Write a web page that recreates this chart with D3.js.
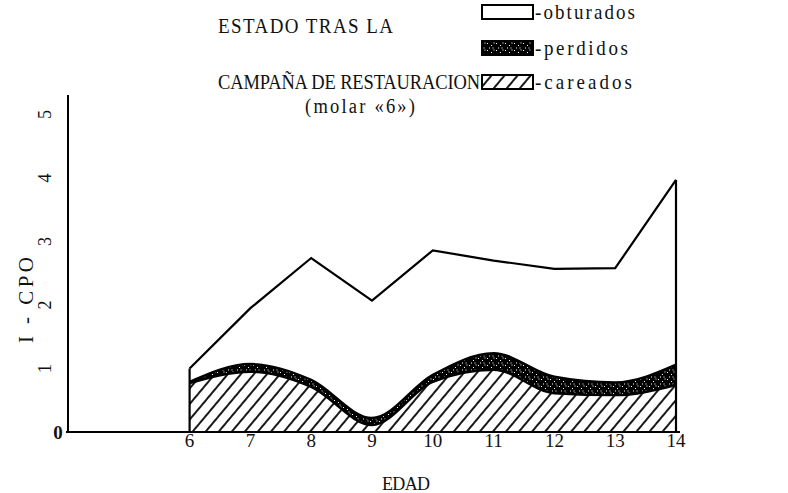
<!DOCTYPE html>
<html><head><meta charset="utf-8">
<script src="https://cdn.jsdelivr.net/npm/d3@7"></script>
<style>
body{margin:0;background:#fff;}
text{font-family:"Liberation Serif","DejaVu Serif",serif;fill:#111;}
</style></head>
<body><svg id="c" width="788" height="493"></svg>
<script>
// ---- data ----
const ages = [6, 7, 8, 9, 10, 11, 12, 13, 14];
const careados  = [0.77, 0.95, 0.71, 0.11, 0.79, 0.98, 0.61, 0.58, 0.74];
const perdidos  = [0.02, 0.12, 0.11, 0.11, 0.11, 0.26, 0.26, 0.20, 0.32];
const obturados = [0.21, 0.88, 1.92, 1.85, 1.96, 1.46, 1.70, 1.80, 2.91];
const xTickLabels = ["6","7","8","9","10","11","12","13","14"];
const yTickLabels = ["1","2","3","4","5"];
const legendLabels = ["-obturados","-perdidos","-careados"];

const rows = ages.map((a,i)=>({age:a, careados:careados[i], perdidos:perdidos[i], obturados:obturados[i]}));
const stack = d3.stack().keys(["careados","perdidos","obturados"])(rows);

const svg = d3.select("#c");
const x = d3.scaleLinear().domain([4,14]).range([68,676]);
const y = d3.scaleLinear().domain([0,5]).range([432,114.5]);

const defs = svg.append("defs");
const hatch = defs.append("pattern").attr("id","hatch").attr("patternUnits","userSpaceOnUse")
  .attr("width",10).attr("height",10).attr("patternTransform","rotate(40)");
hatch.append("rect").attr("width",10).attr("height",10).attr("fill","#fff");
hatch.append("rect").attr("x",4.1).attr("y",0).attr("width",1.8).attr("height",10).attr("fill","#000");

const speck = defs.append("pattern").attr("id","speck").attr("patternUnits","userSpaceOnUse")
  .attr("width",9).attr("height",7);
speck.append("rect").attr("width",9).attr("height",7).attr("fill","#000");
[[1,1],[5,3],[3,5.5],[7.5,0.5],[6.5,5.5]].forEach(p=>speck.append("rect").attr("x",p[0]).attr("y",p[1]).attr("width",1).attr("height",1).attr("fill","#fff"));

// layers
const areaLin = d3.area().x(d=>x(d.data.age)).y0(d=>y(d[0])).y1(d=>y(d[1]));
const areaCurve = d3.area().curve(d3.curveMonotoneX).x(d=>x(d.data.age)).y0(d=>y(d[0])).y1(d=>y(d[1]));
const lineCurve = d3.line().curve(d3.curveMonotoneX).x(d=>x(d.data.age)).y(d=>y(d[1]));
const lineLin = d3.line().x(d=>x(d.data.age)).y(d=>y(d[1]));

svg.append("path").datum(stack[2]).attr("d",areaLin).attr("fill","#fff");
svg.append("path").datum(stack[1]).attr("d",areaCurve).attr("fill","url(#speck)");
svg.append("path").datum(stack[0]).attr("d",areaCurve).attr("fill","url(#hatch)");
svg.append("path").datum(stack[0]).attr("d",lineCurve).attr("fill","none").attr("stroke","#000").attr("stroke-width",2.4);
svg.append("path").datum(stack[1]).attr("d",lineCurve).attr("fill","none").attr("stroke","#000").attr("stroke-width",2.4);
svg.append("path").datum(stack[2]).attr("d",lineLin).attr("fill","none").attr("stroke","#000").attr("stroke-width",2.2);
// vertical edges
const first = stack[2][0], last = stack[2][stack[2].length-1];
svg.append("line").attr("x1",x(first.data.age)).attr("x2",x(first.data.age)).attr("y1",y(0)).attr("y2",y(first[1])).attr("stroke","#000").attr("stroke-width",2.2);
svg.append("line").attr("x1",x(last.data.age)).attr("x2",x(last.data.age)).attr("y1",y(0)).attr("y2",y(last[1])).attr("stroke","#000").attr("stroke-width",2.2);

// axes
svg.append("line").attr("x1",x(4)).attr("x2",x(4)).attr("y1",y(0)).attr("y2",95).attr("stroke","#000").attr("stroke-width",2);
svg.append("line").attr("x1",66).attr("x2",680).attr("y1",y(0)).attr("y2",y(0)).attr("stroke","#000").attr("stroke-width",2);

svg.selectAll(".xt").data(ages).enter().append("text")
  .attr("x",d=>x(d)).attr("y",447).attr("text-anchor","middle").attr("font-size",19)
  .text((d,i)=>xTickLabels[i]);
svg.selectAll(".yt").data([1,2,3,4,5]).enter().append("text")
  .attr("transform",d=>`translate(51,${y(d)}) rotate(-90)`).attr("text-anchor","middle").attr("font-size",18)
  .text((d,i)=>yTickLabels[i]);
svg.append("text").attr("x",58).attr("y",439).attr("text-anchor","middle").attr("font-size",19).attr("font-weight","bold").text("0");

svg.append("text").attr("transform","translate(33,300) rotate(-90)").attr("text-anchor","middle").attr("font-size",21)
  .attr("textLength",86).attr("lengthAdjust","spacing").text("I - CPO");
svg.append("text").attr("x",406).attr("y",490).attr("text-anchor","middle").attr("font-size",18)
  .attr("textLength",48).attr("lengthAdjust","spacing").text("EDAD");

// titles (slightly tall letterforms like the original typeface)
svg.append("text").attr("transform","translate(218,33) scale(1,1.12)").attr("font-size",19).attr("textLength",175).attr("lengthAdjust","spacing").text("ESTADO  TRAS  LA");
svg.append("text").attr("transform","translate(218,89) scale(1,1.12)").attr("font-size",18.5).attr("textLength",262).attr("lengthAdjust","spacing").text("CAMPAÑA  DE RESTAURACION");
svg.append("text").attr("transform","translate(305,113) scale(1,1.08)").attr("font-size",18.5).attr("textLength",110).attr("lengthAdjust","spacing").text("(molar «6»)");

// legend
const lg = [{y:5, fill:"#fff", w:100},{y:41, fill:"url(#speck)", w:93},{y:75, fill:"url(#hatch)", w:97}];
lg.forEach((d,i)=>{
  svg.append("rect").attr("x",482).attr("y",d.y).attr("width",51).attr("height",14)
    .attr("fill",d.fill).attr("stroke","#000").attr("stroke-width",2);
  svg.append("text").attr("transform",`translate(535,${d.y+14}) scale(1,1.1)`).attr("font-size",19)
    .attr("textLength",d.w).attr("lengthAdjust","spacing").text(legendLabels[i]);
});
</script></body></html>
